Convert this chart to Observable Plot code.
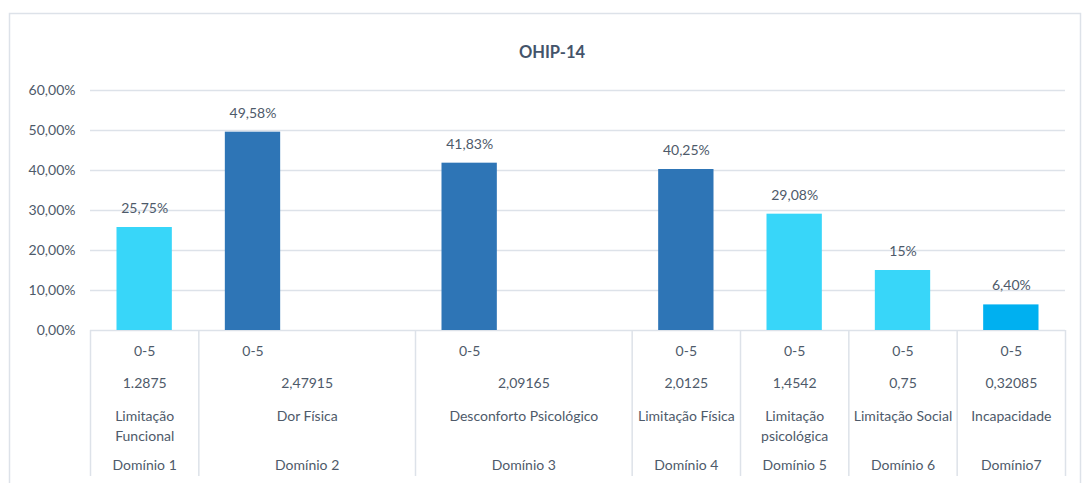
<!DOCTYPE html>
<html>
<head>
<meta charset="utf-8">
<script src="https://cdn.jsdelivr.net/npm/d3@7"></script>
<script src="https://cdn.jsdelivr.net/npm/@observablehq/plot@0.6"></script>
<style>
  body { margin: 0; background: #fff; }
  #chart svg { display: block; }
</style>
</head>
<body>
<div id="chart"></div>
<script>
const title = "OHIP-14";
const domains = ["Domínio 1", "Domínio 2", "Domínio 3", "Domínio 4", "Domínio 5", "Domínio 6", "Domínio7"];
const names = ["Limitação\nFuncional", "Dor Física", "Desconforto Psicológico", "Limitação Física", "Limitação\npsicológica", "Limitação Social", "Incapacidade"];
const scores = ["1.2875", "2,47915", "2,09165", "2,0125", "1,4542", "0,75", "0,32085"];
const ranges = ["0-5", "0-5", "0-5", "0-5", "0-5", "0-5", "0-5"];
const values = [25.75, 49.58, 41.83, 40.25, 29.08, 15, 6.40];
const valueLabels = ["25,75%", "49,58%", "41,83%", "40,25%", "29,08%", "15%", "6,40%"];
const spans = [1, 2, 2, 1, 1, 1, 1];
const colors = ["#38D6F9", "#2E75B6", "#2E75B6", "#2E75B6", "#38D6F9", "#38D6F9", "#00B0F0"];
const yTicks = [0, 10, 20, 30, 40, 50, 60];

// build table
let start = 0;
const data = domains.map((d, i) => {
  const row = {domain: d, name: names[i], score: scores[i], range: ranges[i], value: values[i],
    label: valueLabels[i], color: colors[i], start, span: spans[i]};
  start += spans[i];
  return row;
});
const totalSlots = start;
const bounds = [0, ...data.map(d => d.start + d.span)];

const textColor = "#4E5A6A";
const lineColor = "#DDE2E9";
const font = "Lato, 'Open Sans', sans-serif";

const chart = Plot.plot({
  width: 1082,
  height: 483,
  marginLeft: 90,
  marginRight: 17,
  marginTop: 90,
  marginBottom: 153,
  style: {fontFamily: font, fontSize: "14px", color: textColor, background: "#fff", overflow: "visible"},
  x: {domain: [0, totalSlots], axis: null},
  y: {domain: [0, 60], ticks: yTicks, tickFormat: d => d.toFixed(2).replace(".", ",") + "%", tickSize: 0, tickPadding: 15, label: null},
  marks: [
    Plot.frame({stroke: lineColor, strokeWidth: 1.5, insetLeft: -81, insetTop: -77, insetRight: -15, insetBottom: -160}),
    Plot.ruleY(yTicks, {stroke: lineColor, strokeWidth: 1.5}),
    Plot.rectY(data, {x1: "start", x2: d => d.start + 1, y: "value", fill: "color", insetLeft: 26.5, insetRight: 26.5}),
    Plot.text(data, {x: d => d.start + 0.5, y: "value", text: "label", dy: -19, fill: textColor, fontSize: 14}),
    Plot.ruleX(bounds, {x: d => d, y1: 0, y2: 0, insetBottom: -146, stroke: lineColor, strokeWidth: 1.5}),
    Plot.text(data, {x: d => d.start + 0.5, y: 0, text: "range", dy: 21, fill: textColor, fontSize: 14}),
    Plot.text(data, {x: d => d.start + d.span / 2, y: 0, text: "score", dy: 53, fill: textColor, fontSize: 14}),
    Plot.text(data, {x: d => d.start + d.span / 2, y: 0, text: "name", dy: 76, lineAnchor: "top", lineHeight: 1.43, fill: textColor, fontSize: 14}),
    Plot.text(data, {x: d => d.start + d.span / 2, y: 0, text: "domain", dy: 135, fill: textColor, fontSize: 14}),
    Plot.text([title], {frameAnchor: "top", dx: -26, dy: -44, text: d => d, fontWeight: "bold", fontSize: 16.5, fill: "#44546A"})
  ]
});
document.getElementById("chart").append(chart);
</script>
</body>
</html>
